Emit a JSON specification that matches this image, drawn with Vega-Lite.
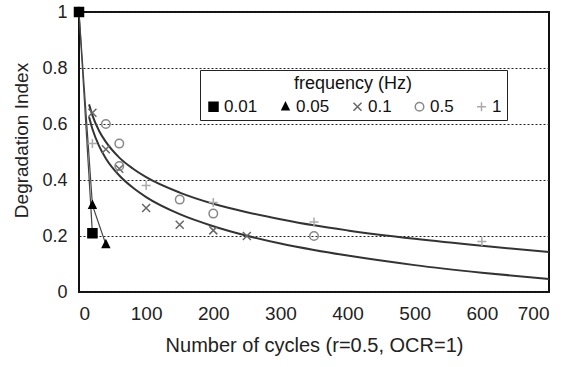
{
  "$schema": "https://vega.github.io/schema/vega-lite/v6.json",
  "autosize": "none",
  "width": 470,
  "height": 280,
  "padding": {"left": 79, "top": 12, "right": 21, "bottom": 75},
  "background": "white",
  "datasets": {
    "pts": [
      {"frequency": "0.01", "cycles": 0, "index": 1.0},
      {"frequency": "0.01", "cycles": 20, "index": 0.21},
      {"frequency": "0.05", "cycles": 0, "index": 1.0},
      {"frequency": "0.05", "cycles": 20, "index": 0.31},
      {"frequency": "0.05", "cycles": 40, "index": 0.17},
      {"frequency": "0.1", "cycles": 20, "index": 0.64},
      {"frequency": "0.1", "cycles": 40, "index": 0.51},
      {"frequency": "0.1", "cycles": 60, "index": 0.44},
      {"frequency": "0.1", "cycles": 100, "index": 0.30},
      {"frequency": "0.1", "cycles": 150, "index": 0.24},
      {"frequency": "0.1", "cycles": 200, "index": 0.22},
      {"frequency": "0.1", "cycles": 250, "index": 0.20},
      {"frequency": "0.5", "cycles": 40, "index": 0.60},
      {"frequency": "0.5", "cycles": 60, "index": 0.53},
      {"frequency": "0.5", "cycles": 60, "index": 0.45},
      {"frequency": "0.5", "cycles": 150, "index": 0.33},
      {"frequency": "0.5", "cycles": 200, "index": 0.28},
      {"frequency": "0.5", "cycles": 350, "index": 0.20},
      {"frequency": "1", "cycles": 20, "index": 0.53},
      {"frequency": "1", "cycles": 100, "index": 0.38},
      {"frequency": "1", "cycles": 200, "index": 0.32},
      {"frequency": "1", "cycles": 350, "index": 0.25},
      {"frequency": "1", "cycles": 600, "index": 0.18}
    ],
    "fit": [
      {"curve": "upper", "cycles": 15, "index": 0.670},
      {"curve": "upper", "cycles": 20, "index": 0.631},
      {"curve": "upper", "cycles": 30, "index": 0.575},
      {"curve": "upper", "cycles": 40, "index": 0.536},
      {"curve": "upper", "cycles": 60, "index": 0.480},
      {"curve": "upper", "cycles": 80, "index": 0.441},
      {"curve": "upper", "cycles": 100, "index": 0.410},
      {"curve": "upper", "cycles": 150, "index": 0.355},
      {"curve": "upper", "cycles": 200, "index": 0.315},
      {"curve": "upper", "cycles": 250, "index": 0.285},
      {"curve": "upper", "cycles": 300, "index": 0.260},
      {"curve": "upper", "cycles": 350, "index": 0.238},
      {"curve": "upper", "cycles": 400, "index": 0.220},
      {"curve": "upper", "cycles": 500, "index": 0.190},
      {"curve": "upper", "cycles": 600, "index": 0.165},
      {"curve": "upper", "cycles": 700, "index": 0.143},
      {"curve": "lower", "cycles": 15, "index": 0.625},
      {"curve": "lower", "cycles": 20, "index": 0.582},
      {"curve": "lower", "cycles": 30, "index": 0.521},
      {"curve": "lower", "cycles": 40, "index": 0.477},
      {"curve": "lower", "cycles": 60, "index": 0.416},
      {"curve": "lower", "cycles": 80, "index": 0.373},
      {"curve": "lower", "cycles": 100, "index": 0.339},
      {"curve": "lower", "cycles": 150, "index": 0.278},
      {"curve": "lower", "cycles": 200, "index": 0.235},
      {"curve": "lower", "cycles": 250, "index": 0.201},
      {"curve": "lower", "cycles": 300, "index": 0.173},
      {"curve": "lower", "cycles": 350, "index": 0.150},
      {"curve": "lower", "cycles": 400, "index": 0.130},
      {"curve": "lower", "cycles": 500, "index": 0.096},
      {"curve": "lower", "cycles": 600, "index": 0.069},
      {"curve": "lower", "cycles": 700, "index": 0.046}
    ]
  },
  "encoding": {
    "x": {
      "field": "cycles", "type": "quantitative",
      "scale": {"domain": [0, 700], "nice": false},
      "axis": {
        "values": [0, 100, 200, 300, 400, 500, 600, 700],
        "title": "Number of cycles (r=0.5, OCR=1)",
        "grid": false, "labelPadding": 12, "titlePadding": 12, "labelFontSize": 19, "titleFontSize": 20
      }
    },
    "y": {
      "field": "index", "type": "quantitative",
      "scale": {"domain": [0, 1], "nice": false},
      "axis": {
        "values": [0, 0.2, 0.4, 0.6, 0.8, 1],
        "format": ".1~f",
        "title": "Degradation Index",
        "grid": true, "labelPadding": 12, "titlePadding": 10, "titleY": 128, "titleAlign": "center",
        "labelFontSize": 18, "titleFontSize": 19
      }
    }
  },
  "layer": [
    {
      "data": {"name": "fit"},
      "mark": {"type": "line", "color": "#333", "strokeWidth": 2, "interpolate": "monotone"},
      "encoding": {"detail": {"field": "curve", "type": "nominal"}}
    },
    {
      "data": {"name": "pts"},
      "transform": [{"filter": {"field": "frequency", "oneOf": ["0.01", "0.05"]}}],
      "mark": {"type": "line", "color": "#444", "strokeWidth": 1.2},
      "encoding": {"detail": {"field": "frequency", "type": "nominal"}}
    },
    {
      "data": {"name": "pts"},
      "mark": {"type": "point", "filled": true, "size": 100, "strokeWidth": 1.5, "opacity": 1},
      "encoding": {
        "shape": {
          "field": "frequency", "type": "nominal",
          "scale": {
            "domain": ["0.01", "0.05", "0.1", "0.5", "1"],
            "range": [
              "M-0.9,-0.9H0.9V0.9H-0.9Z",
              "M0,-0.8L0.7,0.6H-0.7Z",
              "M-0.8,-0.8L0.8,0.8M-0.8,0.8L0.8,-0.8",
              "M0.85,0A0.85,0.85 0 1,1 -0.85,0A0.85,0.85 0 1,1 0.85,0Z",
              "M-0.9,0H0.9M0,-0.9V0.9"
            ]
          },
          "legend": {
            "title": "frequency (Hz)",
            "orient": "none",
            "legendX": 121,
            "legendY": 58,
            "direction": "horizontal",
            "columns": 5,
            "columnPadding": 19,
            "titleAnchor": "middle",
            "strokeColor": "#222",
            "fillColor": "white",
            "padding": 5,
            "labelOffset": 2
          }
        },
        "fill": {
          "field": "frequency", "type": "nominal",
          "scale": {"domain": ["0.01", "0.05", "0.1", "0.5", "1"], "range": ["#000000", "#000000", "transparent", "transparent", "transparent"]},
          "legend": {"title": "frequency (Hz)"}
        },
        "stroke": {
          "field": "frequency", "type": "nominal",
          "scale": {"domain": ["0.01", "0.05", "0.1", "0.5", "1"], "range": ["#000000", "#000000", "#666666", "#888888", "#aaaaaa"]},
          "legend": {"title": "frequency (Hz)"}
        }
      }
    }
  ],
  "config": {
    "font": "Liberation Sans",
    "view": {"stroke": "#111", "strokeWidth": 2},
    "axis": {
      "domain": false, "ticks": false,
      "labelFont": "Liberation Sans", "labelColor": "#222",
      "titleFont": "Liberation Sans", "titleFontWeight": "normal", "titleColor": "#222",
      "gridColor": "#222", "gridDash": [2, 2], "gridWidth": 1, "gridOpacity": 1
    },
    "legend": {
      "labelFont": "Liberation Sans", "labelFontSize": 17, "labelColor": "#111",
      "titleFont": "Liberation Sans", "titleFontSize": 18, "titleFontWeight": "normal", "titleColor": "#111",
      "symbolStrokeWidth": 1.5
    }
  }
}
